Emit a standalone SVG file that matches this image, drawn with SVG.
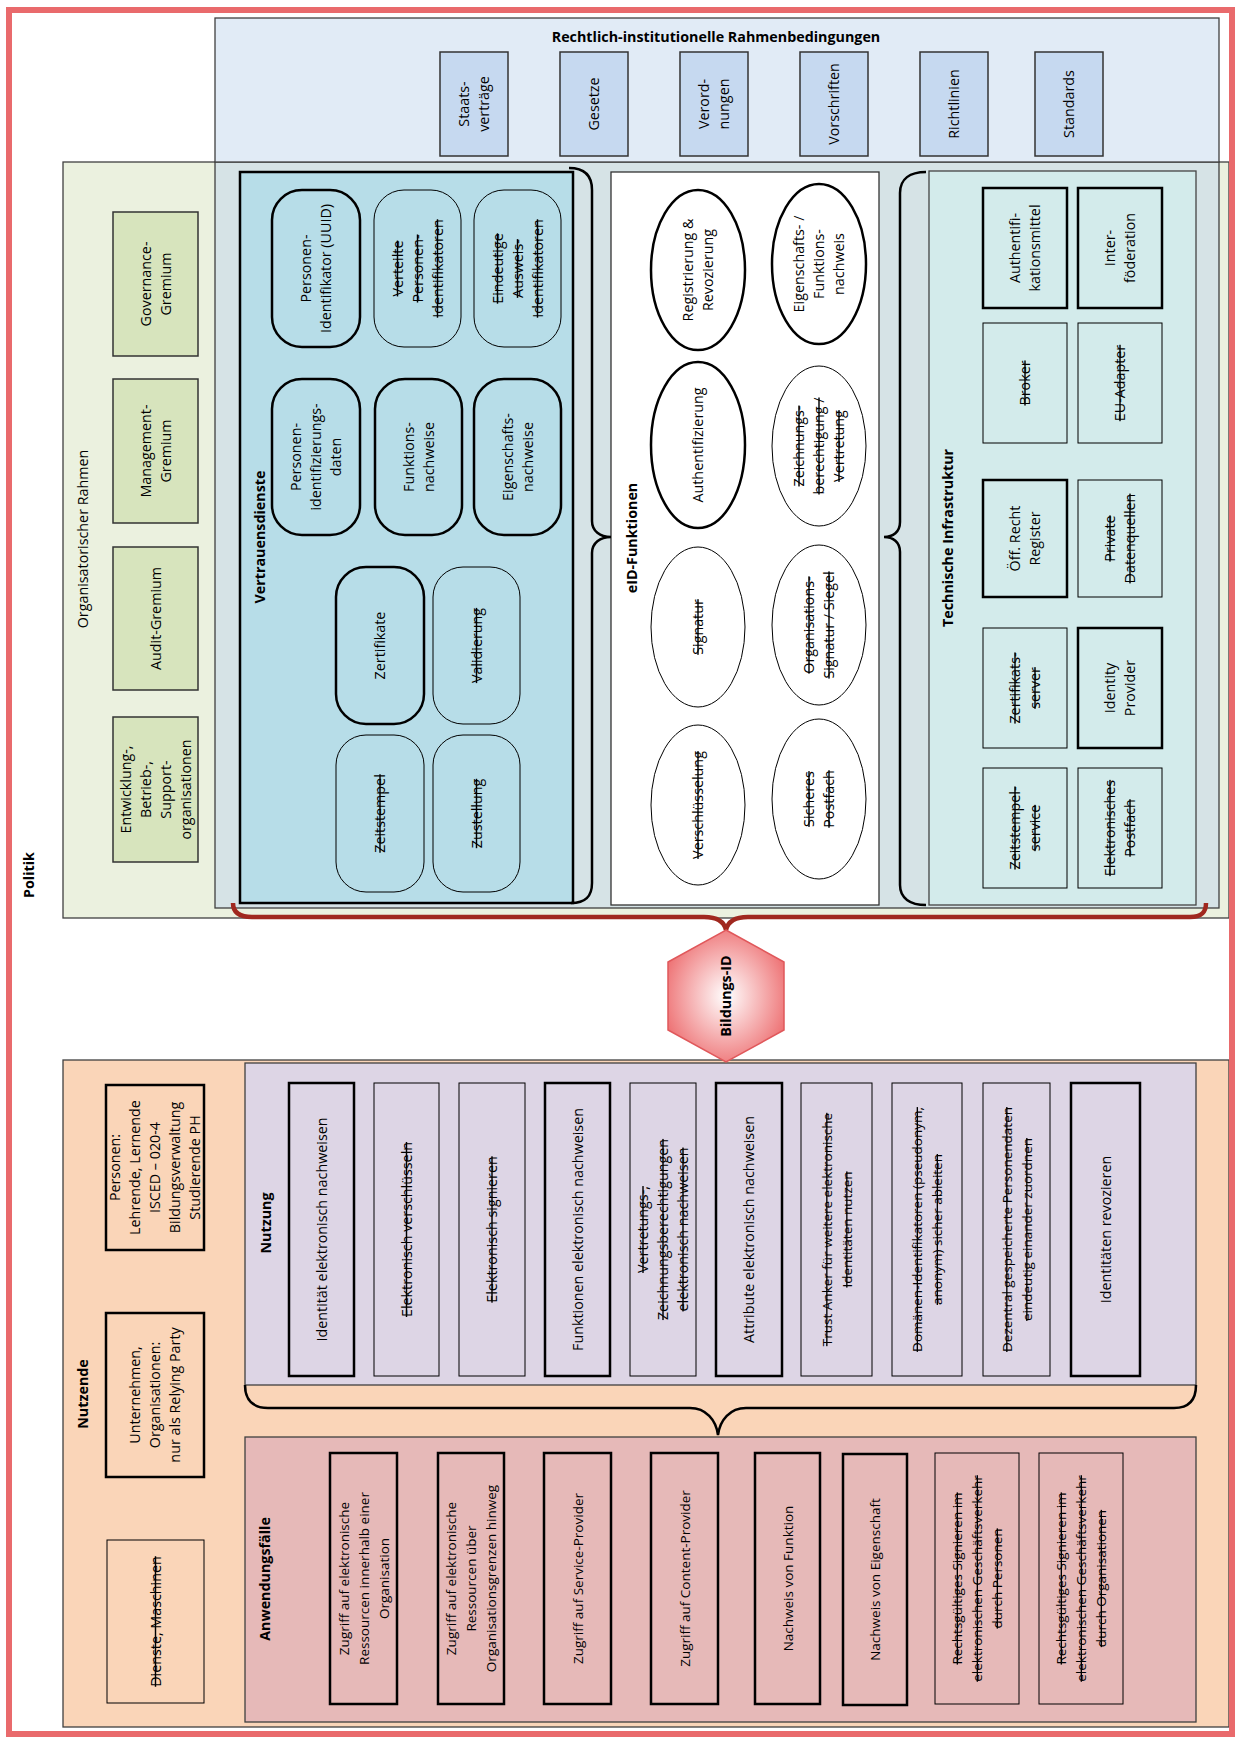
<svg xmlns="http://www.w3.org/2000/svg" width="1236" height="1738" viewBox="0 0 1236 1738">
<defs>
<radialGradient id="hexg" cx="50%" cy="50%" r="55%">
<stop offset="0" stop-color="#FFFFFF"/>
<stop offset="1" stop-color="#EE7476"/>
</radialGradient>
<style>
.t{font-family:"Open Sans","Liberation Sans",sans-serif;font-size:14.3px;fill:#000;text-anchor:middle}
.sm{font-size:13.5px}
.b{font-weight:bold}
.s{text-decoration:line-through}
.grp{stroke:#404040;stroke-width:1.3}
.law{fill:#C6D9F0;stroke:#333;stroke-width:1.5}
.gbox{fill:#D7E4BD;stroke:#333;stroke-width:1.5}
.vd{fill:#B7DDE8;stroke:#000}
.th{stroke-width:2.5}
.tn{stroke-width:1}
.el{fill:#fff;stroke:#000}
.tb{fill:#D3EBEB;stroke:#000}
.pb{fill:#FAD5B8;stroke:#000}
.nb{fill:#DDD5E5;stroke:#000}
.ab{fill:#E6B9B8;stroke:#000}
.brace{fill:none;stroke:#000;stroke-width:2.5}
.rbrace{fill:none;stroke:#A0281F;stroke-width:4.5}
</style>
</defs>
<rect width="1236" height="1738" fill="#fff"/>

<g id="politik">
<text class="t b" transform="translate(29,875) rotate(-90)" y="5">Politik</text>
</g>

<g id="organisatorischer-rahmen">
<rect x="63" y="162" width="1166" height="756" fill="#EBF1DF" class="grp"/>
<rect x="215" y="162" width="1004" height="746" fill="#D6E3E6" class="grp"/>
<text class="t" transform="translate(83,539) rotate(-90)" y="5">Organisatorischer Rahmen</text>
</g>

<g id="rahmenbedingungen">
<rect x="215" y="18" width="1004" height="144" fill="#E1EBF6" class="grp"/>
<text class="t b" x="716" y="42">Rechtlich-institutionelle Rahmenbedingungen</text>
</g>

<g id="staatsvertraege"><rect class="law" x="440" y="52" width="68" height="104"/>
<text class="t" transform="translate(474,104) rotate(-90)"><tspan x="0" y="-5">Staats-</tspan><tspan x="0" y="15">verträge</tspan></text></g>
<g id="gesetze"><rect class="law" x="560" y="52" width="68" height="104"/>
<text class="t" transform="translate(594,104) rotate(-90)" y="5">Gesetze</text></g>
<g id="verordnungen"><rect class="law" x="680" y="52" width="68" height="104"/>
<text class="t" transform="translate(714,104) rotate(-90)"><tspan x="0" y="-5">Verord-</tspan><tspan x="0" y="15">nungen</tspan></text></g>
<g id="vorschriften"><rect class="law" x="800" y="52" width="68" height="104"/>
<text class="t" transform="translate(834,104) rotate(-90)" y="5">Vorschriften</text></g>
<g id="richtlinien"><rect class="law" x="920" y="52" width="68" height="104"/>
<text class="t" transform="translate(954,104) rotate(-90)" y="5">Richtlinien</text></g>
<g id="standards"><rect class="law" x="1035" y="52" width="68" height="104"/>
<text class="t" transform="translate(1069,104) rotate(-90)" y="5">Standards</text></g>

<g id="governance"><rect class="gbox" x="113" y="212" width="85" height="144"/>
<text class="t" transform="translate(155.5,284) rotate(-90)"><tspan x="0" y="-5">Governance-</tspan><tspan x="0" y="15">Gremium</tspan></text></g>
<g id="management"><rect class="gbox" x="113" y="379" width="85" height="144"/>
<text class="t" transform="translate(155.5,451) rotate(-90)"><tspan x="0" y="-5">Management-</tspan><tspan x="0" y="15">Gremium</tspan></text></g>
<g id="audit"><rect class="gbox" x="113" y="547" width="85" height="143"/>
<text class="t" transform="translate(155.5,618.5) rotate(-90)" y="5">Audit-Gremium</text></g>
<g id="entwicklung"><rect class="gbox" x="113" y="717" width="85" height="145"/>
<text class="t" transform="translate(155.5,789.5) rotate(-90)"><tspan x="0" y="-25">Entwicklung-,</tspan><tspan x="0" y="-5">Betrieb-,</tspan><tspan x="0" y="15">Support-</tspan><tspan x="0" y="35">organisationen</tspan></text></g>

<g id="vertrauensdienste">
<rect class="vd" x="240" y="172" width="333" height="731" stroke-width="2.5"/>
<text class="t b" transform="translate(260,537) rotate(-90)" y="5">Vertrauensdienste</text>
</g>
<g id="uuid"><rect class="vd th" x="272" y="190" width="88" height="157" rx="30"/>
<text class="t" transform="translate(316,268.5) rotate(-90)"><tspan x="0" y="-5">Personen-</tspan><tspan x="0" y="15">Identifikator (UUID)</tspan></text></g>
<g id="verteilte"><rect class="vd tn" x="374" y="190" width="87" height="157" rx="30"/>
<text class="t s" transform="translate(417.5,268.5) rotate(-90)"><tspan x="0" y="-15">Verteilte</tspan><tspan x="0" y="5">Personen-</tspan><tspan x="0" y="25">Identifikatoren</tspan></text></g>
<g id="eindeutige"><rect class="vd tn" x="474" y="190" width="87" height="157" rx="30"/>
<text class="t s" transform="translate(517.5,268.5) rotate(-90)"><tspan x="0" y="-15">Eindeutige</tspan><tspan x="0" y="5">Ausweis-</tspan><tspan x="0" y="25">Identifikatoren</tspan></text></g>
<g id="pid-daten"><rect class="vd th" x="272" y="379" width="88" height="156" rx="30"/>
<text class="t" transform="translate(316,457) rotate(-90)"><tspan x="0" y="-15">Personen-</tspan><tspan x="0" y="5">identifizierungs-</tspan><tspan x="0" y="25">daten</tspan></text></g>
<g id="funktionsnachweise"><rect class="vd th" x="375" y="379" width="87" height="156" rx="30"/>
<text class="t" transform="translate(418.5,457) rotate(-90)"><tspan x="0" y="-5">Funktions-</tspan><tspan x="0" y="15">nachweise</tspan></text></g>
<g id="eigenschaftsnachweise"><rect class="vd th" x="474" y="379" width="87" height="156" rx="30"/>
<text class="t" transform="translate(517.5,457) rotate(-90)"><tspan x="0" y="-5">Eigenschafts-</tspan><tspan x="0" y="15">nachweise</tspan></text></g>
<g id="zertifikate"><rect class="vd th" x="336" y="567" width="88" height="157" rx="30"/>
<text class="t" transform="translate(380,645.5) rotate(-90)" y="5">Zertifikate</text></g>
<g id="validierung"><rect class="vd tn" x="433" y="567" width="87" height="157" rx="30"/>
<text class="t s" transform="translate(476.5,645.5) rotate(-90)" y="5">Validierung</text></g>
<g id="zeitstempel"><rect class="vd tn" x="336" y="735" width="88" height="157" rx="30"/>
<text class="t s" transform="translate(380,813.5) rotate(-90)" y="5">Zeitstempel</text></g>
<g id="zustellung"><rect class="vd tn" x="433" y="735" width="87" height="157" rx="30"/>
<text class="t s" transform="translate(476.5,813.5) rotate(-90)" y="5">Zustellung</text></g>

<g id="eid-funktionen">
<rect x="611" y="172" width="268" height="733" fill="#fff" stroke="#333" stroke-width="1.3"/>
<text class="t b" transform="translate(632,538) rotate(-90)" y="5">eID-Funktionen</text>
</g>
<g id="registrierung"><ellipse class="el th" cx="698" cy="270" rx="47" ry="80"/>
<text class="t" transform="translate(698,270) rotate(-90)"><tspan x="0" y="-5">Registrierung &amp;</tspan><tspan x="0" y="15">Revozierung</tspan></text></g>
<g id="eigenschafts-funktionsnachweis"><ellipse class="el th" cx="819" cy="264" rx="47" ry="80"/>
<text class="t" transform="translate(819,264) rotate(-90)"><tspan x="0" y="-15">Eigenschafts- /</tspan><tspan x="0" y="5">Funktions-</tspan><tspan x="0" y="25">nachweis</tspan></text></g>
<g id="authentifizierung"><ellipse class="el th" cx="698" cy="445" rx="47" ry="83"/>
<text class="t" transform="translate(698,445) rotate(-90)" y="5">Authentifizierung</text></g>
<g id="zeichnungsberechtigung"><ellipse class="el tn" cx="819" cy="446" rx="47" ry="80"/>
<text class="t s" transform="translate(819,446) rotate(-90)"><tspan x="0" y="-15">Zeichnungs-</tspan><tspan x="0" y="5">berechtigung /</tspan><tspan x="0" y="25">Vertretung</tspan></text></g>
<g id="signatur"><ellipse class="el tn" cx="698" cy="627" rx="47" ry="80"/>
<text class="t s" transform="translate(698,627) rotate(-90)" y="5">Signatur</text></g>
<g id="organisationssignatur"><ellipse class="el tn" cx="819" cy="625" rx="47" ry="80"/>
<text class="t s" transform="translate(819,625) rotate(-90)"><tspan x="0" y="-5">Organisations-</tspan><tspan x="0" y="15">Signatur / Siegel</tspan></text></g>
<g id="verschluesselung"><ellipse class="el tn" cx="698" cy="805" rx="47" ry="80"/>
<text class="t s" transform="translate(698,805) rotate(-90)" y="5">Verschlüsselung</text></g>
<g id="sicheres-postfach"><ellipse class="el tn" cx="819" cy="799" rx="47" ry="80"/>
<text class="t s" transform="translate(819,799) rotate(-90)"><tspan x="0" y="-5">Sicheres</tspan><tspan x="0" y="15">Postfach</tspan></text></g>

<g id="technische-infrastruktur">
<rect x="929" y="171" width="267" height="734" fill="#D3EBEB" stroke="#444" stroke-width="1.3"/>
<text class="t b" transform="translate(948,538) rotate(-90)" y="5">Technische Infrastruktur</text>
</g>
<g id="authentifikationsmittel"><rect class="tb th" x="983" y="188" width="84" height="120"/>
<text class="t" transform="translate(1025,248) rotate(-90)"><tspan x="0" y="-5">Authentifi-</tspan><tspan x="0" y="15">kationsmittel</tspan></text></g>
<g id="interfoederation"><rect class="tb th" x="1078" y="188" width="84" height="120"/>
<text class="t" transform="translate(1120,248) rotate(-90)"><tspan x="0" y="-5">Inter-</tspan><tspan x="0" y="15">föderation</tspan></text></g>
<g id="broker"><rect class="tb tn" x="983" y="323" width="84" height="120"/>
<text class="t s" transform="translate(1025,383) rotate(-90)" y="5">Broker</text></g>
<g id="eu-adapter"><rect class="tb tn" x="1078" y="323" width="84" height="120"/>
<text class="t s" transform="translate(1120,383) rotate(-90)" y="5">EU-Adapter</text></g>
<g id="register"><rect class="tb th" x="983" y="480" width="84" height="117"/>
<text class="t" transform="translate(1025,538.5) rotate(-90)"><tspan x="0" y="-5">Öff. Recht</tspan><tspan x="0" y="15">Register</tspan></text></g>
<g id="datenquellen"><rect class="tb tn" x="1078" y="480" width="84" height="117"/>
<text class="t s" transform="translate(1120,538.5) rotate(-90)"><tspan x="0" y="-5">Private</tspan><tspan x="0" y="15">Datenquellen</tspan></text></g>
<g id="zertifikatsserver"><rect class="tb tn" x="983" y="628" width="84" height="120"/>
<text class="t s" transform="translate(1025,688) rotate(-90)"><tspan x="0" y="-5">Zertifikats-</tspan><tspan x="0" y="15">server</tspan></text></g>
<g id="identity-provider"><rect class="tb th" x="1078" y="628" width="84" height="120"/>
<text class="t" transform="translate(1120,688) rotate(-90)"><tspan x="0" y="-5">Identity</tspan><tspan x="0" y="15">Provider</tspan></text></g>
<g id="zeitstempelservice"><rect class="tb tn" x="983" y="768" width="84" height="120"/>
<text class="t s" transform="translate(1025,828) rotate(-90)"><tspan x="0" y="-5">Zeitstempel-</tspan><tspan x="0" y="15">service</tspan></text></g>
<g id="elektronisches-postfach"><rect class="tb tn" x="1078" y="768" width="84" height="120"/>
<text class="t s" transform="translate(1120,828) rotate(-90)"><tspan x="0" y="-5">Elektronisches</tspan><tspan x="0" y="15">Postfach</tspan></text></g>

<g id="nutzende">
<rect x="63" y="1060" width="1166" height="667" fill="#FAD5B8" class="grp"/>
<text class="t b" transform="translate(83,1394) rotate(-90)" y="5">Nutzende</text>
</g>
<g id="personen"><rect class="pb th" x="106" y="1085" width="98" height="165"/>
<text class="t" transform="translate(155,1167.5) rotate(-90)"><tspan x="0" y="-35">Personen:</tspan><tspan x="0" y="-15">Lehrende, Lernende</tspan><tspan x="0" y="5">ISCED – 020-4</tspan><tspan x="0" y="25">Bildungsverwaltung</tspan><tspan x="0" y="45">Studierende PH</tspan></text></g>
<g id="unternehmen"><rect class="pb th" x="106" y="1313" width="98" height="164"/>
<text class="t" transform="translate(155,1395) rotate(-90)"><tspan x="0" y="-15">Unternehmen,</tspan><tspan x="0" y="5">Organisationen:</tspan><tspan x="0" y="25">nur als Relying Party</tspan></text></g>
<g id="dienste-maschinen"><rect class="pb tn" x="107" y="1540" width="97" height="163"/>
<text class="t s" transform="translate(155.5,1621.5) rotate(-90)" y="5">Dienste, Maschinen</text></g>

<g id="nutzung">
<rect x="245" y="1063" width="951" height="322" fill="#DDD5E5" class="grp"/>
<text class="t b" transform="translate(266,1223) rotate(-90)" y="5">Nutzung</text>
</g>
<g id="n-identitaet"><rect class="nb th" x="289" y="1083" width="65" height="293"/>
<text class="t" transform="translate(321.5,1229.5) rotate(-90)" y="5">Identität elektronisch nachweisen</text></g>
<g id="n-verschluesseln"><rect class="nb tn" x="374" y="1083" width="65" height="293"/>
<text class="t s" transform="translate(406.5,1229.5) rotate(-90)" y="5">Elektronisch verschlüsseln</text></g>
<g id="n-signieren"><rect class="nb tn" x="459" y="1083" width="66" height="293"/>
<text class="t s" transform="translate(492,1229.5) rotate(-90)" y="5">Elektronisch signieren</text></g>
<g id="n-funktionen"><rect class="nb th" x="545" y="1083" width="65" height="293"/>
<text class="t" transform="translate(577.5,1229.5) rotate(-90)" y="5">Funktionen elektronisch nachweisen</text></g>
<g id="n-vertretung"><rect class="nb tn" x="630" y="1083" width="66" height="293"/>
<text class="t s" transform="translate(663,1229.5) rotate(-90)"><tspan x="0" y="-15">Vertretungs-,</tspan><tspan x="0" y="5">Zeichnungsberechtigungen</tspan><tspan x="0" y="25">elektronisch nachweisen</tspan></text></g>
<g id="n-attribute"><rect class="nb th" x="716" y="1083" width="66" height="293"/>
<text class="t" transform="translate(749,1229.5) rotate(-90)" y="5">Attribute elektronisch nachweisen</text></g>
<g id="n-trust-anker"><rect class="nb tn" x="801" y="1083" width="71" height="293"/>
<text class="t sm s" transform="translate(836.5,1229.5) rotate(-90)"><tspan x="0" y="-5">Trust Anker für weitere elektronische</tspan><tspan x="0" y="15">Identitäten nutzen</tspan></text></g>
<g id="n-domaenen"><rect class="nb tn" x="892" y="1083" width="70" height="293"/>
<text class="t sm s" transform="translate(927,1229.5) rotate(-90)"><tspan x="0" y="-5">Domänen-Identifikatoren (pseudonym,</tspan><tspan x="0" y="15">anonym) sicher ableiten</tspan></text></g>
<g id="n-dezentral"><rect class="nb tn" x="983" y="1083" width="67" height="293"/>
<text class="t sm s" transform="translate(1016.5,1229.5) rotate(-90)"><tspan x="0" y="-5">Dezentral gespeicherte Personendaten</tspan><tspan x="0" y="15">eindeutig einander zuordnen</tspan></text></g>
<g id="n-revozieren"><rect class="nb th" x="1071" y="1083" width="69" height="293"/>
<text class="t" transform="translate(1105.5,1229.5) rotate(-90)" y="5">Identitäten revozieren</text></g>

<g id="anwendungsfaelle">
<rect x="245" y="1437" width="951" height="285" fill="#E6B9B8" class="grp"/>
<text class="t b" transform="translate(265,1579) rotate(-90)" y="5">Anwendungsfälle</text>
</g>
<g id="a-innerhalb"><rect class="ab th" x="330" y="1453" width="67" height="251"/>
<text class="t sm" transform="translate(363.5,1578.5) rotate(-90)"><tspan x="0" y="-15">Zugriff auf elektronische</tspan><tspan x="0" y="5">Ressourcen innerhalb einer</tspan><tspan x="0" y="25">Organisation</tspan></text></g>
<g id="a-ueber"><rect class="ab th" x="438" y="1453" width="66" height="251"/>
<text class="t sm" transform="translate(471,1578.5) rotate(-90)"><tspan x="0" y="-15">Zugriff auf elektronische</tspan><tspan x="0" y="5">Ressourcen über</tspan><tspan x="0" y="25">Organisationsgrenzen hinweg</tspan></text></g>
<g id="a-service"><rect class="ab th" x="544" y="1453" width="67" height="251"/>
<text class="t sm" transform="translate(577.5,1578.5) rotate(-90)" y="5">Zugriff auf Service-Provider</text></g>
<g id="a-content"><rect class="ab th" x="651" y="1453" width="67" height="251"/>
<text class="t sm" transform="translate(684.5,1578.5) rotate(-90)" y="5">Zugriff auf Content-Provider</text></g>
<g id="a-funktion"><rect class="ab th" x="755" y="1453" width="65" height="251"/>
<text class="t sm" transform="translate(787.5,1578.5) rotate(-90)" y="5">Nachweis von Funktion</text></g>
<g id="a-eigenschaft"><rect class="ab th" x="843" y="1454" width="64" height="251"/>
<text class="t sm" transform="translate(875,1579.5) rotate(-90)" y="5">Nachweis von Eigenschaft</text></g>
<g id="a-sign-personen"><rect class="ab tn" x="935" y="1453" width="84" height="251"/>
<text class="t sm s" transform="translate(977,1578.5) rotate(-90)"><tspan x="0" y="-15">Rechtsgültiges Signieren im</tspan><tspan x="0" y="5">elektronischen Geschäftsverkehr</tspan><tspan x="0" y="25">durch Personen</tspan></text></g>
<g id="a-sign-organisationen"><rect class="ab tn" x="1039" y="1453" width="84" height="251"/>
<text class="t sm s" transform="translate(1081,1578.5) rotate(-90)"><tspan x="0" y="-15">Rechtsgültiges Signieren im</tspan><tspan x="0" y="5">elektronischen Geschäftsverkehr</tspan><tspan x="0" y="25">durch Organisationen</tspan></text></g>

<g id="connectors">
<path class="brace" d="M569,168 C585,168 592,176 592,190 L592,521 C592,531 600,537 611,537 C600,537 592,543 592,553 L592,883 C592,897 585,903 571,903"/>
<path class="brace" d="M926,172 C910,172 900,179 900,193 L900,522 C900,532 893,537 884,537 C893,537 900,542 900,552 L900,885 C900,898 910,905 926,905"/>
<path class="rbrace" d="M233,903 C233,913 240,917 252,917 L704,917 C716,917 724,921 726,930 C728,921 736,917 748,917 L1190,917 C1202,917 1206,912 1206,903"/>
<path class="brace" d="M245,1385 C245,1400 253,1408 268,1408 L690,1408 C706,1408 716,1420 718,1435 C720,1420 730,1408 746,1408 L1174,1408 C1189,1408 1196,1400 1196,1385"/>
</g>

<g id="bildungs-id">
<polygon points="726,930 784,962 784,1030 726,1062 668,1030 668,962" fill="url(#hexg)" stroke="#E0585B" stroke-width="1.5"/>
<text class="t b" transform="translate(726,996) rotate(-90)" y="5">Bildungs-ID</text>
</g>

<rect x="9" y="10" width="1223" height="1724" fill="none" stroke="#E96A6C" stroke-width="6"/>
</svg>
